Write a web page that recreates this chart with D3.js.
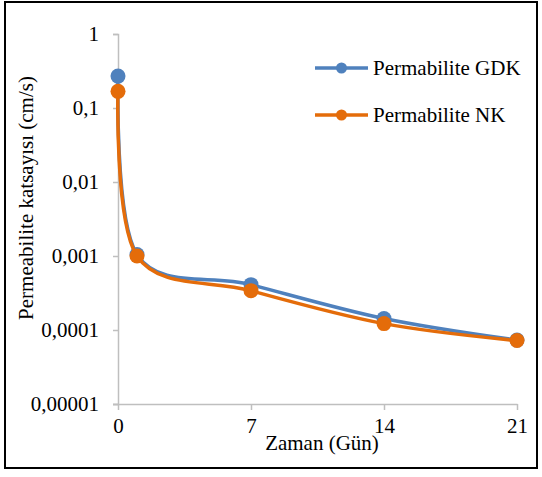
<!DOCTYPE html>
<html>
<head>
<meta charset="utf-8">
<script src="https://cdn.jsdelivr.net/npm/d3@7/dist/d3.min.js"></script>
<style>
  body { margin: 0; background: #fff; }
</style>
</head>
<body>
<svg id="chart" width="542" height="477"></svg>
<script>
"use strict";

//Chart data
var days = [0, 1, 7, 14, 21];
var gdkValues = [0.27, 0.00105, 0.00041, 0.000143, 0.000073];
var nkValues = [0.168, 0.001, 0.00034, 0.000122, 0.000072];
var seriesNames = ["Permabilite GDK", "Permabilite NK"];
var seriesColors = ["#4f81bd", "#e46c0a"];
var xTicks = [0, 7, 14, 21];
var yTicks = [1, 0.1, 0.01, 0.001, 0.0001, 0.00001];

var FONT = "'Liberation Serif', 'Times New Roman', Times, serif";

var svg = d3.select("#chart");

//Outer frame
svg.append("rect")
  .attr("x", 5).attr("y", 2)
  .attr("width", 532).attr("height", 466)
  .attr("fill", "none")
  .attr("stroke", "#000")
  .attr("stroke-width", 2);

//Scales
var x = d3.scaleLinear().domain([0, 21]).range([118, 517]);
var y = d3.scaleLog().domain([0.00001, 1]).range([404, 34]);

var fmt = function(d) { return String(d >= 0.0001 ? d : d.toFixed(5)).replace(".", ","); };

//Y axis
var yAxis = svg.append("g")
  .attr("transform", "translate(118,0)")
  .call(d3.axisLeft(y).tickValues(yTicks).tickSize(5).tickPadding(14).tickFormat(fmt));
yAxis.select(".domain").attr("stroke", "#bfbfbf").attr("stroke-width", 1.5);
yAxis.selectAll(".tick line").attr("stroke", "#bfbfbf").attr("stroke-width", 1.5);
yAxis.selectAll(".tick text")
  .style("font-family", FONT)
  .style("font-size", "21px")
  .attr("fill", "#000");

//X axis
var xAxis = svg.append("g")
  .attr("transform", "translate(0,404)")
  .call(d3.axisBottom(x).tickValues(xTicks).tickSize(6).tickPadding(8).tickFormat(d3.format("d")));
xAxis.select(".domain").attr("stroke", "#bfbfbf").attr("stroke-width", 1.5)
  .attr("d", "M113,0.5H517.5");
xAxis.selectAll(".tick line").attr("stroke", "#bfbfbf").attr("stroke-width", 1.5);
xAxis.selectAll(".tick text")
  .style("font-family", FONT)
  .style("font-size", "21px")
  .attr("fill", "#000");

//Axis titles
svg.append("text")
  .attr("x", 322).attr("y", 450)
  .attr("text-anchor", "middle")
  .style("font-family", FONT)
  .style("font-size", "21px")
  .text("Zaman (Gün)");

svg.append("text")
  .attr("transform", "translate(33,198) rotate(-90)")
  .attr("text-anchor", "middle")
  .style("font-family", FONT)
  .style("font-size", "21px")
  .text("Permeabilite katsayısı (cm/s)");

//Series
var series = [gdkValues, nkValues].map(function(vals, i) {
  return {
    name: seriesNames[i],
    color: seriesColors[i],
    values: days.map(function(d, j) { return {day: d, value: vals[j]}; })
  };
});

//Excel-like smoothing
var line = d3.line()
  .curve(d3.curveCardinal.tension(0))
  .x(function(d) { return x(d.day); })
  .y(function(d) { return y(d.value); });

var g = svg.selectAll(".series")
  .data(series)
  .enter().append("g")
  .attr("class", "series");

g.append("path")
  .attr("d", function(d) { return line(d.values); })
  .attr("fill", "none")
  .attr("stroke", function(d) { return d.color; })
  .attr("stroke-width", 3.5);

g.selectAll("circle")
  .data(function(d) { return d.values.map(function(v) { return {v: v, color: d.color}; }); })
  .enter().append("circle")
  .attr("cx", function(d) { return x(d.v.day); })
  .attr("cy", function(d) { return y(d.v.value); })
  .attr("r", 7.5)
  .attr("fill", function(d) { return d.color; });

//Legend
var legend = svg.selectAll(".legend")
  .data(series)
  .enter().append("g")
  .attr("class", "legend")
  .attr("transform", function(d, i) { return "translate(315," + (68 + i * 47) + ")"; });

legend.append("line")
  .attr("x1", 0).attr("x2", 53)
  .attr("stroke", function(d) { return d.color; })
  .attr("stroke-width", 3.5);

legend.append("circle")
  .attr("cx", 26.5).attr("r", 5.5)
  .attr("fill", function(d) { return d.color; });

legend.append("text")
  .attr("x", 58).attr("y", 7)
  .style("font-family", FONT)
  .style("font-size", "21px")
  .text(function(d) { return d.name; });
</script>
</body>
</html>
